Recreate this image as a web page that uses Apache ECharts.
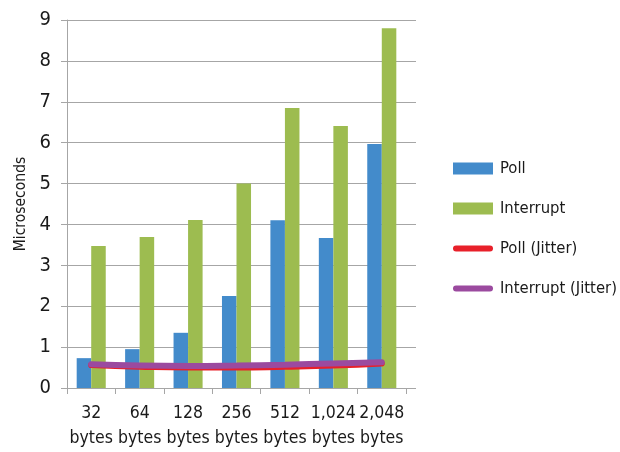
<!DOCTYPE html>
<html><head><meta charset="utf-8">
<script src="https://cdn.jsdelivr.net/npm/echarts@6/dist/echarts.min.js"></script>
<style>html,body{margin:0;padding:0;background:#fff}#c{width:620px;height:452px}</style>
</head><body><div id="c"></div>
<script>
var categories = ['32\nbytes','64\nbytes','128\nbytes','256\nbytes','512\nbytes','1,024\nbytes','2,048\nbytes'];
var poll = [0.73, 0.95, 1.35, 2.25, 4.1, 3.67, 5.97];
var interrupt = [3.47, 3.69, 4.11, 5.0, 6.85, 6.41, 8.8];
var pollJitter = [0.56, 0.52, 0.5, 0.5, 0.52, 0.55, 0.6];
var interruptJitter = [0.58, 0.55, 0.54, 0.55, 0.57, 0.6, 0.63];
var yTicks = [0,1,2,3,4,5,6,7,8,9];

var FONT = '"DejaVu Sans",sans-serif';
var W = 'condensed';
var LINEICON = 'path://M3,0 L37,0 A3,3 0 0 1 37,6 L3,6 A3,3 0 0 1 3,0 Z';
var chart = echarts.init(document.getElementById('c'), null, {renderer:'canvas'});
chart.setOption({
  animation:false,
  textStyle:{fontFamily:FONT},
  grid:[
    {left:67, right:204, top:20, bottom:64},
    {left:67, right:214, top:20, bottom:64}
  ],
  legend:{
    orient:'vertical', left:448, top:155, itemWidth:40, itemHeight:12, itemGap:23,
    textStyle:{fontFamily:FONT, fontWeight:W, fontSize:16.5, color:'#1a1a1a', padding:[0,0,0,2]},
    data:[
      {name:'Poll', icon:'rect'},
      {name:'Interrupt', icon:'rect'},
      {name:'Poll (Jitter)', icon:LINEICON},
      {name:'Interrupt (Jitter)', icon:LINEICON}
    ]
  },
  xAxis:[
    {gridIndex:0, type:'value', show:false, min:0, max:1},
    {gridIndex:1, type:'category', data:categories,
     axisLine:{lineStyle:{color:'#a6a6a6', width:1}},
     axisTick:{show:true, length:6, lineStyle:{color:'#a6a6a6'}},
     axisLabel:{fontFamily:FONT, fontWeight:W, fontSize:17.5, color:'#1a1a1a', lineHeight:25, margin:13, interval:0}}
  ],
  yAxis:[
    {gridIndex:0, type:'value', min:0, max:9, interval:1,
     axisLine:{show:false}, axisTick:{show:false}, axisLabel:{show:false},
     splitLine:{lineStyle:{color:'#a6a6a6', width:1}}},
    {gridIndex:1, type:'value', min:0, max:9, interval:1,
     name:'Microseconds', nameLocation:'middle', nameGap:38, nameRotate:90,
     nameTextStyle:{fontFamily:FONT, fontWeight:W, fontSize:15.5, color:'#1a1a1a'},
     axisLine:{show:true, lineStyle:{color:'#a6a6a6', width:1}},
     axisTick:{show:true, length:6, lineStyle:{color:'#a6a6a6'}},
     axisLabel:{fontFamily:FONT, fontWeight:W, fontSize:20, color:'#1a1a1a', margin:16,
       formatter:function(v){return yTicks.indexOf(v)>=0?String(v):'';}},
     splitLine:{show:false}}
  ],
  series:[
    {name:'Poll', type:'bar', xAxisIndex:1, yAxisIndex:1, data:poll, barGap:'0%', barCategoryGap:'40%',
     itemStyle:{color:'#438bcb'}},
    {name:'Interrupt', type:'bar', xAxisIndex:1, yAxisIndex:1, data:interrupt, barGap:'0%', barCategoryGap:'40%',
     itemStyle:{color:'#9dbc50'}},
    {name:'Poll (Jitter)', type:'line', xAxisIndex:1, yAxisIndex:1, data:pollJitter, smooth:true, symbol:'none',
     lineStyle:{color:'#e8202a', width:6, cap:'round'}, itemStyle:{color:'#e8202a'}},
    {name:'Interrupt (Jitter)', type:'line', xAxisIndex:1, yAxisIndex:1, data:interruptJitter, smooth:true, symbol:'none',
     lineStyle:{color:'#9b4a9f', width:6, cap:'round'}, itemStyle:{color:'#9b4a9f'}}
  ]
});
</script></body></html>
